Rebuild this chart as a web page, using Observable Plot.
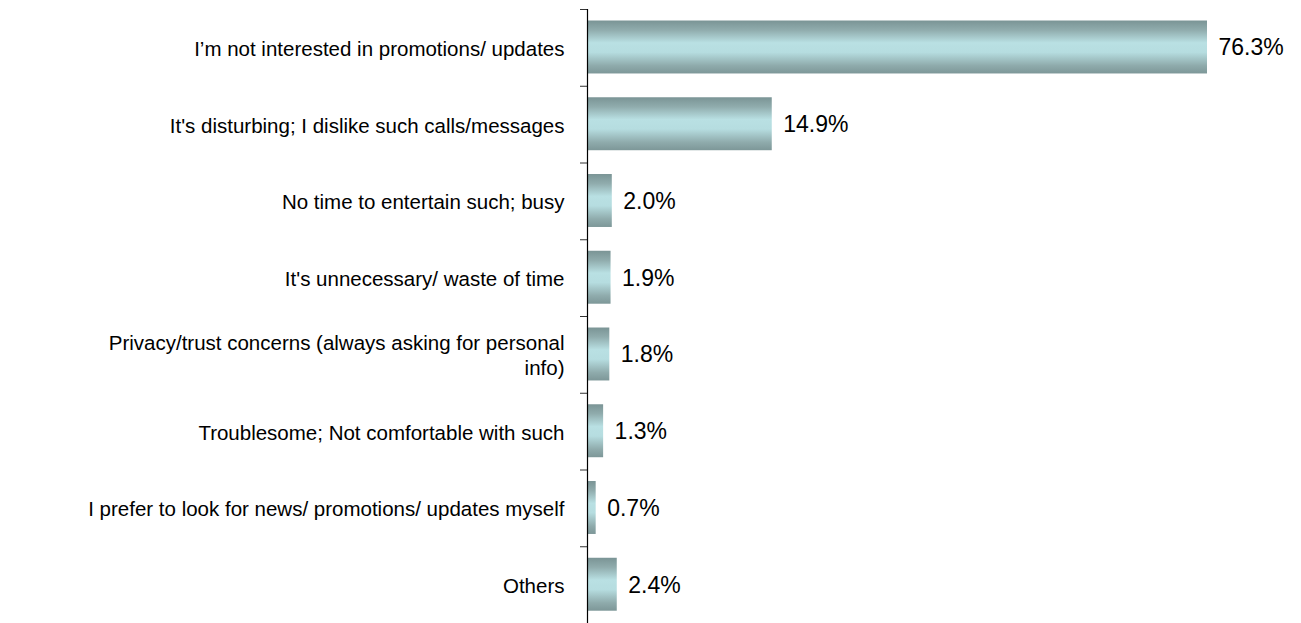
<!DOCTYPE html>
<html>
<head>
<meta charset="utf-8">
<script src="https://cdn.jsdelivr.net/npm/d3@7"></script>
<script src="https://cdn.jsdelivr.net/npm/@observablehq/plot@0.6"></script>
<style>
  html, body { margin: 0; padding: 0; background: #fff; }
  #chart svg { display: block; }
</style>
</head>
<body>
<div id="chart"></div>
<script>
const categories = [
  "I\u2019m not interested in promotions/ updates",
  "It's disturbing; I dislike such calls/messages",
  "No time to entertain such; busy",
  "It's unnecessary/ waste of time",
  "Privacy/trust concerns (always asking for personal\ninfo)",
  "Troublesome; Not comfortable with such",
  "I prefer to look for news/ promotions/ updates myself",
  "Others"
];
const values = [76.3, 14.9, 2.0, 1.9, 1.8, 1.3, 0.7, 2.4];
const valueLabels = ["76.3%", "14.9%", "2.0%", "1.9%", "1.8%", "1.3%", "0.7%", "2.4%"];

const data = categories.map((c, i) => ({ i, category: c, value: values[i], label: valueLabels[i] }));
const boundaries = d3.range(categories.length + 1);

const chart = Plot.plot({
  width: 1301,
  height: 623,
  marginLeft: 587,
  marginRight: 94,
  marginTop: 9,
  marginBottom: 0,
  style: { fontFamily: "'Liberation Sans', Arial, sans-serif", background: "#fff" },
  x: { domain: [0, 50], clamp: true, axis: null },
  y: { domain: [0, categories.length], reverse: true, axis: null },
  marks: [
    Plot.rectX(data, {
      x1: 0,
      x2: "value",
      y1: d => d.i + 0.15,
      y2: d => d.i + 0.84,
      fill: "url(#barGrad)"
    }),
    Plot.axisY(boundaries, {
      tickSize: 7,
      tickFormat: () => "",
      stroke: "#333",
      anchor: "left"
    }),
    Plot.ruleX([0], { stroke: "#000", strokeWidth: 1.2 }),
    Plot.text(data, {
      x: 0,
      y: d => d.i + 0.5,
      text: "category",
      textAnchor: "end",
      dx: -23,
      fontSize: 20.5,
      lineHeight: 1.2,
      fill: "#000"
    }),
    Plot.text(data, {
      x: "value",
      y: d => d.i + 0.5,
      text: "label",
      textAnchor: "start",
      dx: 11,
      fontSize: 23,
      fill: "#000"
    })
  ]
});

const svg = d3.select(chart);
const defs = svg.insert("defs", ":first-child");
const grad = defs.append("linearGradient")
  .attr("id", "barGrad").attr("x1", 0).attr("y1", 0).attr("x2", 0).attr("y2", 1);
[[0, "#7a9495"], [0.18, "#90acad"], [0.42, "#b9e0e3"], [0.6, "#b6dde0"], [0.85, "#8fabac"], [1, "#7d9798"]]
  .forEach(([o, c]) => grad.append("stop").attr("offset", o).attr("stop-color", c));

document.getElementById("chart").appendChild(chart);
</script>
</body>
</html>
